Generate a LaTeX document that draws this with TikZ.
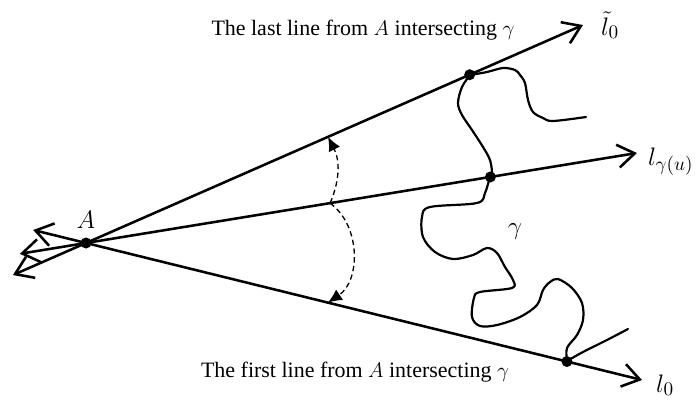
\documentclass[tikz,border=0pt]{standalone}
\usepackage{fontspec}
\setmainfont{Liberation Serif}
\usetikzlibrary{calc,arrows.meta,positioning}

\begin{document}
\begin{tikzpicture}[x=0.02cm,y=-0.02cm,
  font=\fontsize{12.5}{15}\selectfont,
  ray/.style={line width=1.45pt,
    {Straight Barb[length=3.4mm,width=4.6mm]}-{Straight Barb[length=3.4mm,width=4.6mm]}},
  sweep/.style={line width=0.75pt,dash pattern=on 3pt off 2pt,
    -{Latex[length=2.8mm,width=2.5mm]}},
  dot/.style={circle,fill,inner sep=0pt,minimum size=2.2mm},
  linelab/.style={anchor=base west,font=\fontsize{15}{18}\selectfont}]
  \useasboundingbox (0,0) rectangle (698,400);
  % the point A and the far ends of the three lines
  \coordinate (A) at (86,243);
  \coordinate (ut) at (583,25);
  \coordinate (mt) at (637,153);
  \coordinate (lt) at (642,380);
  \coordinate (ub) at ($(A)!-0.147!(ut)$);
  \coordinate (mb) at ($(A)!-0.12!(mt)$);
  \coordinate (lb) at ($(A)!-0.095!(lt)$);
  \draw[ray] (ub) -- (ut);
  \draw[ray] (mb) -- (mt);
  \draw[ray] (lb) -- (lt);
  % the curve gamma
  \draw[line width=1.25pt,line join=round,line cap=round]
    plot[smooth,tension=0.55] coordinates {(586,117) (553,121) (543,118) (533,112)
      (528,100) (525,83) (520,75) (515,70) (503,68) (487,72) (470,75)}
    plot[smooth,tension=0.55] coordinates {(470,75) (462,87) (458,103) (462,115)
      (472,130) (483,147) (490,160) (492,173) (490,177) (485,193) (477,203)
      (430,207) (422,217) (423,237) (435,252) (453,259) (473,255) (487,248)
      (497,253) (505,267) (513,280) (512,288) (480,292) (474,298) (472,317)
      (480,326) (497,325) (520,317) (537,305) (543,290) (550,282) (558,279)
      (572,288) (582,303) (583,320) (577,335) (567,348) (567,361)}
    plot[smooth,tension=0.55] coordinates {(567,361) (583,352) (607,340) (628,329)};
  % dashed sweeps between the lines
  \coordinate (m0) at ($(A)!0.443!(mt)$);
  \coordinate (u1) at ($(A)!0.487!(ut)$);
  \coordinate (l1) at ($(A)!0.435!(lt)$);
  \draw[sweep] (m0) to[bend right=25] (u1);
  \draw[sweep] (m0) to[bend left=55] (l1);
  % the marked points
  \node[dot] (pA) at (A) {};
  \node[dot] (pu) at ($(A)!0.772!(ut)$) {};
  \node[dot] (pm) at ($(A)!0.734!(mt)$) {};
  \node[dot] (pl) at ($(A)!0.865!(lt)$) {};
  % labels
  \node (lA) [above=0.5mm of pA,font=\fontsize{13.5}{16}\selectfont] {$A$};
  \node[font=\fontsize{15}{18}\selectfont] (g) at (515,232) {$\gamma$};
  \node[linelab] (nu) at ($(ut)+(12,10)$) {$\tilde{l}_0$};
  \node[linelab] (nm) at ($(mt)+(5,12)$) {$l_{\gamma(u)}$};
  \node[linelab] (nl) at ($(lt)+(8,12)$) {$l_0$};
  \node[anchor=base] (last) at (363,35) {The last line from $A$ intersecting $\gamma$};
  \node[anchor=base] (first) at (355,377) {The first line from $A$ intersecting $\gamma$};
\end{tikzpicture}
\end{document}
